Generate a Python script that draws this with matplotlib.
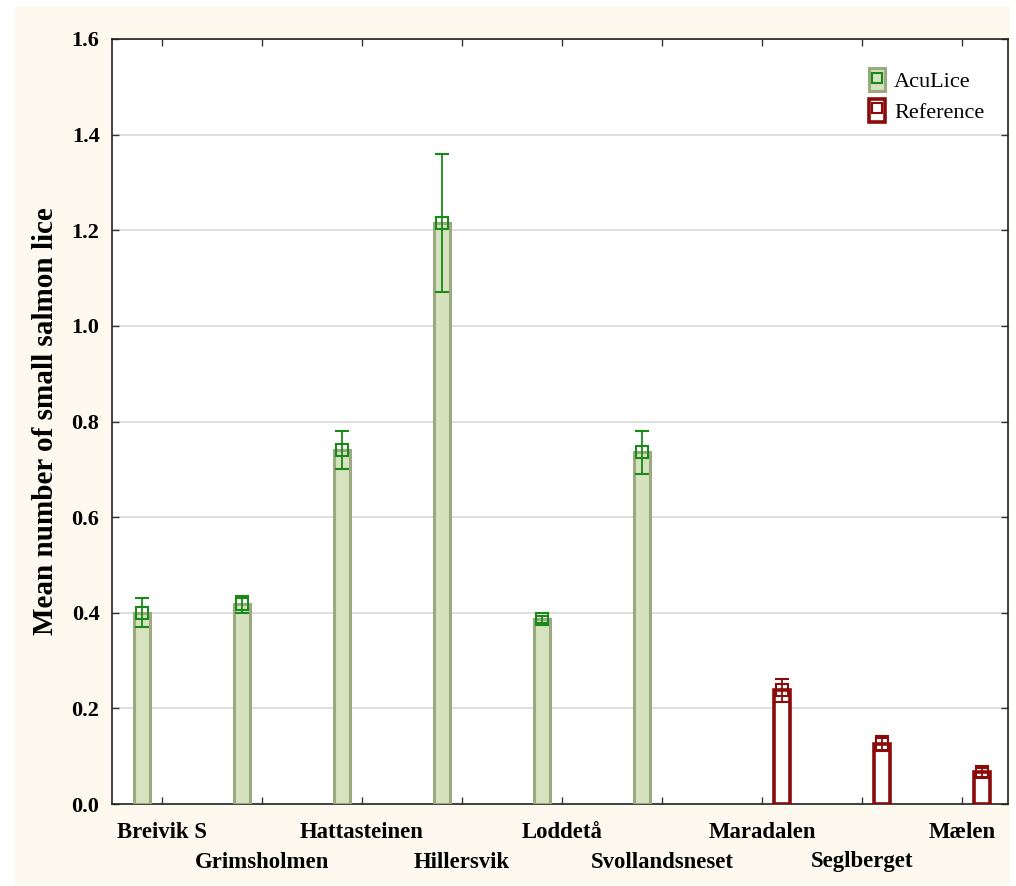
import matplotlib
matplotlib.use("Agg")
import matplotlib.pyplot as plt
from matplotlib.patches import Rectangle, Patch
from matplotlib.lines import Line2D
import numpy as np

categories = ["Breivik S", "Grimsholmen", "Hattasteinen", "Hillersvik", "Loddetå",
              "Svollandsneset", "Maradalen", "Seglberget", "Mælen"]
groups = ["AcuLice", "AcuLice", "AcuLice", "AcuLice", "AcuLice", "AcuLice",
          "Reference", "Reference", "Reference"]
means = [0.400, 0.418, 0.740, 1.215, 0.386, 0.736, 0.238, 0.126, 0.066]
errors = [0.030, 0.018, 0.040, 0.145, 0.008, 0.045, 0.024, 0.016, 0.010]
yticks = [0.0, 0.2, 0.4, 0.6, 0.8, 1.0, 1.2, 1.4, 1.6]

plt.rcParams['font.family'] = ['Liberation Serif', 'DejaVu Serif']

fig = plt.figure(figsize=(10.16, 8.86), dpi=100)
fig.patch.set_facecolor('white')
fig.patches.append(Rectangle((15/1016, 1 - 885/886), (1010-15)/1016, (885-6)/886,
                             transform=fig.transFigure, facecolor='#FDF9EF',
                             edgecolor='none', zorder=-10))

ax = fig.add_axes([112/1016, 1 - 804/886, (1008-112)/1016, (804-39)/886])
ax.set_facecolor('white')

style = {
    "AcuLice": dict(face='#D6E1BD', edge='#9BA981', err='#178A17', offset=-0.2, lw=2.2),
    "Reference": dict(face='white', edge='#8B0A0A', err='#8B0A0A', offset=0.2, lw=2.6),
}
width = 0.16
pos = np.arange(1, len(categories) + 1)
for x, g, m, e in zip(pos, groups, means, errors):
    s = style[g]
    xb = x + s['offset']
    ax.bar(xb, m, width=width, color=s['face'], edgecolor=s['edge'],
           linewidth=s['lw'], zorder=3)
    ax.errorbar(xb, m, yerr=e, fmt='s', mfc='none', mec=s['err'], ms=9, mew=1.5,
                ecolor=s['err'], elinewidth=1.3, capsize=5, capthick=1.3, zorder=4)

ax.set_xlim(0.503, 9.46)
ax.set_ylim(0, 1.6)
ax.set_yticks(yticks)
ax.set_yticklabels([f"{v:.1f}" for v in yticks])
ax.yaxis.grid(True, color='#D9D9D9', linewidth=1.2, zorder=0)
ax.set_axisbelow(True)

ax.set_xticks(pos)
ax.set_xticklabels([])
ax.tick_params(axis='both', direction='in', top=True, right=True, length=5,
               width=1, color='#333333')
ax.tick_params(axis='y', labelsize=16, pad=9)
for lbl in ax.get_yticklabels():
    lbl.set_fontweight('bold')

for i, (x, c) in enumerate(zip(pos, categories)):
    ypix = 833 if i % 2 == 0 else 862
    yfrac = (804 - ypix) / 765
    ax.text(x, yfrac, c, transform=ax.get_xaxis_transform(), ha='center', va='center',
            fontsize=16.4, fontweight='bold')

for sp in ax.spines.values():
    sp.set_color('#222222')
    sp.set_linewidth(1.2)

ax.set_ylabel("Mean number of small salmon lice", fontsize=21, fontweight='bold',
              labelpad=9)

h1 = (Patch(facecolor=style['AcuLice']['face'], edgecolor=style['AcuLice']['edge'], linewidth=2.2),
      Line2D([], [], marker='s', ls='none', mfc='none', mec=style['AcuLice']['err'], ms=7, mew=1.5))
h2 = (Patch(facecolor='white', edgecolor=style['Reference']['edge'], linewidth=2.6),
      Line2D([], [], marker='s', ls='none', mfc='none', mec=style['Reference']['err'], ms=7, mew=1.5))
leg = ax.legend([h1, h2], ["AcuLice", "Reference"], loc='upper right',
                bbox_to_anchor=(0.996, 0.988), frameon=False, fontsize=16,
                handlelength=0.75, handleheight=1.2, handletextpad=0.4, labelspacing=0.3)

fig.savefig("out.png", dpi=100, facecolor=fig.get_facecolor())
